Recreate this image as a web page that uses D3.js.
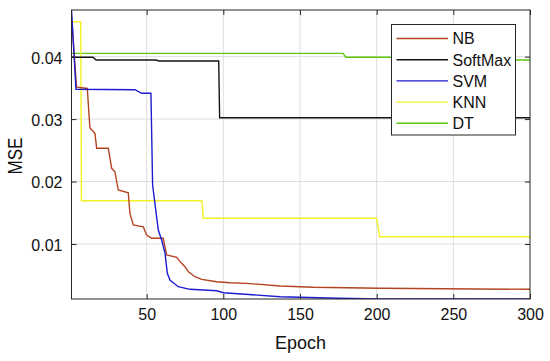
<!DOCTYPE html>
<html>
<head>
<meta charset="utf-8">
<script src="https://cdn.jsdelivr.net/npm/d3@7"></script>
<style>
  html, body { margin: 0; padding: 0; background: #fff; }
  svg { display: block; font-family: "Liberation Sans", Arial, sans-serif; }
</style>
</head>
<body>
<svg id="chart" width="550" height="361"></svg>
<script>
// ---- data (epoch, MSE) ----
const seriesNames = ["NB", "SoftMax", "SVM", "KNN", "DT"];
const xTicks = [50, 100, 150, 200, 250, 300];
const yTicks = [0.01, 0.02, 0.03, 0.04];

const nb = [[1,0.0465],[4.3,0.0351],[11.3,0.0349],[13,0.02857],[16.3,0.02772],[17.4,0.02532],[25,0.02532],
  [27.2,0.02212],[29.3,0.02157],[31.5,0.01864],[38,0.01821],[39.1,0.01491],[41.3,0.01304],[47.8,0.01276],
  [50,0.01144],[53.3,0.01091],[60.8,0.01091],[63.1,0.00823],[69.6,0.00786],[72.8,0.0069],[75,0.00636],
  [77.2,0.00556],[81.5,0.00476],[85.9,0.00434],[95.7,0.00396],[104.3,0.0038],[115.2,0.0037],[137,0.00327],
  [158.7,0.00306],[202,0.0029],[300,0.00274]];
const softmax = [[1,0.0399],[15,0.0399],[17,0.03946],[56,0.03946],[58,0.0393],[97,0.0393],[97.6,0.03022],[300,0.03022]];
const svm = [[1,0.0475],[3.9,0.03477],[42.4,0.0347],[46.8,0.03413],[52.8,0.03413],[53.9,0.01944],[55.4,0.01651],
  [57.6,0.01224],[59.8,0.01063],[62,0.0085],[63.5,0.0053],[65.2,0.00423],[70.6,0.00316],[78.3,0.00274],
  [95.7,0.00251],[100,0.0022],[137,0.00155],[150,0.00146],[175,0.0013],[202,0.0012],[300,0.0012]];
const knn = [[1,0.0456],[7,0.0456],[7.5,0.01693],[86,0.01693],[87,0.01411],[200,0.01411],[202,0.01116],[300,0.01116]];
const dt = [[1,0.04053],[178,0.04053],[180,0.0399],[259,0.0399],[261,0.03946],[300,0.03946]];

const allSeries = [nb, softmax, svm, knn, dt];
const colors = ["#b4431f", "#141414", "#1c1cd0", "#f2f222", "#5cc810"];

// ---- layout ----
const svg = d3.select("#chart");
const L = 71.5, R = 530, T = 10, B = 299;
const x = d3.scaleLinear().domain([1, 300]).range([L, R]);
const y = d3.scaleLinear().domain([0.00119, 0.04747]).range([B, T]);

// grid
const g = svg.append("g");
g.selectAll(".gx").data(xTicks.slice(0, -1)).join("line")
  .attr("x1", d => x(d)).attr("x2", d => x(d)).attr("y1", T).attr("y2", B)
  .attr("stroke", "#dedede").attr("stroke-width", 1);
g.selectAll(".gy").data(yTicks).join("line")
  .attr("x1", L).attr("x2", R).attr("y1", d => y(d)).attr("y2", d => y(d))
  .attr("stroke", "#dedede").attr("stroke-width", 1);

// lines
const line = d3.line().x(d => x(d[0])).y(d => y(d[1]));
svg.append("clipPath").attr("id", "clip").append("rect")
  .attr("x", L).attr("y", T).attr("width", R - L).attr("height", B - T);
const lines = svg.append("g").attr("clip-path", "url(#clip)");
// draw order: DT, KNN, SoftMax, NB, SVM on top
[4, 3, 1, 0, 2].forEach(i => {
  lines.append("path").datum(allSeries[i]).attr("d", line)
    .attr("fill", "none").attr("stroke", colors[i]).attr("stroke-width", 1.4);
});

// axes box
const axisColor = "#262626";
svg.append("rect").attr("x", L).attr("y", T).attr("width", R - L).attr("height", B - T)
  .attr("fill", "none").attr("stroke", axisColor).attr("stroke-width", 1);

// ticks (inside, bottom/top/left/right)
const xAxis = d3.axisBottom(x).tickValues(xTicks).tickSizeInner(-5).tickSizeOuter(0).tickPadding(10);
const xg = svg.append("g").attr("transform", `translate(0,${B})`).call(xAxis);
xg.select(".domain").remove();
xg.selectAll("line").attr("stroke", axisColor);
xg.selectAll("text").attr("font-size", 16).attr("fill", "#111")
  .attr("font-family", "Liberation Sans, Arial, sans-serif");

const xTop = d3.axisTop(x).tickValues(xTicks).tickSizeInner(-5).tickSizeOuter(0).tickFormat("");
const xtg = svg.append("g").attr("transform", `translate(0,${T})`).call(xTop);
xtg.select(".domain").remove();
xtg.selectAll("line").attr("stroke", axisColor);

const yAxis = d3.axisLeft(y).tickValues(yTicks).tickSizeInner(-5).tickSizeOuter(0).tickPadding(9)
  .tickFormat(d3.format(".2f"));
const yg = svg.append("g").attr("transform", `translate(${L},0)`).call(yAxis);
yg.select(".domain").remove();
yg.selectAll("line").attr("stroke", axisColor);
yg.selectAll("text").attr("font-size", 16).attr("fill", "#111")
  .attr("font-family", "Liberation Sans, Arial, sans-serif").attr("dy", "0.40em");

const yRight = d3.axisRight(y).tickValues(yTicks).tickSizeInner(-5).tickSizeOuter(0).tickFormat("");
const yrg = svg.append("g").attr("transform", `translate(${R},0)`).call(yRight);
yrg.select(".domain").remove();
yrg.selectAll("line").attr("stroke", axisColor);

// axis labels
svg.append("text").attr("x", 300.5).attr("y", 349).attr("text-anchor", "middle")
  .attr("font-size", 18).attr("fill", "#111").text("Epoch");
svg.append("text").attr("transform", "translate(21.5,156) rotate(-90)").attr("text-anchor", "middle")
  .attr("font-size", 20).attr("fill", "#111").attr("textLength", 37).attr("lengthAdjust", "spacingAndGlyphs")
  .text("MSE");

// legend
const lg = svg.append("g");
lg.append("rect").attr("x", 391.5).attr("y", 24.5).attr("width", 124).attr("height", 110.5)
  .attr("fill", "#fff").attr("stroke", axisColor).attr("stroke-width", 1);
seriesNames.forEach((name, i) => {
  const yy = 38.5 + i * 21.2;
  lg.append("line").attr("x1", 396.5).attr("x2", 448).attr("y1", yy).attr("y2", yy)
    .attr("stroke", colors[i]).attr("stroke-width", 1.4);
  lg.append("text").attr("x", 452.5).attr("y", yy + 5.8).attr("font-size", 16)
    .attr("fill", "#111").text(name);
});
</script>
</body>
</html>
